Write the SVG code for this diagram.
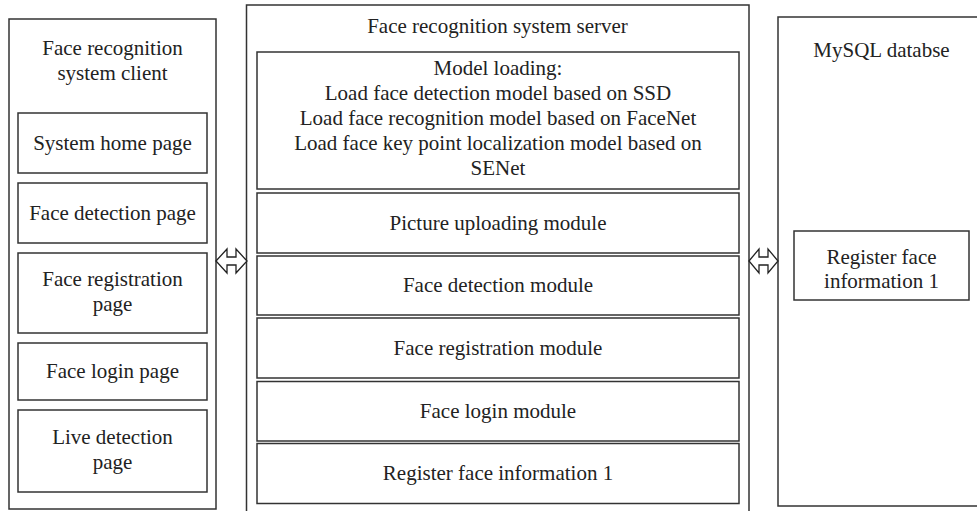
<svg xmlns="http://www.w3.org/2000/svg" width="977" height="511" viewBox="0 0 977 511">
<style>
rect{fill:#fff;stroke:#333;stroke-width:1.5}
text{font-family:"Liberation Serif","Times New Roman",serif;font-size:21px;fill:#222;text-anchor:middle}
.arr{fill:#fff;stroke:#222;stroke-width:1.3;stroke-linejoin:miter}
</style>
<rect x="0" y="0" width="977" height="511" style="stroke:none"/>
<g id="client">
<rect x="9" y="19" width="207" height="490"/>
<text x="112.5" y="55">Face recognition</text>
<text x="112.5" y="80">system client</text>
</g>
<g id="home"><rect x="18" y="113" width="189" height="60"/><text x="112.5" y="150">System home page</text></g>
<g id="detpage"><rect x="18" y="183" width="189" height="60"/><text x="112.5" y="220">Face detection page</text></g>
<g id="regpage"><rect x="18" y="253" width="189" height="80"/><text x="112.5" y="286">Face registration</text><text x="112.5" y="311">page</text></g>
<g id="loginpage"><rect x="18" y="343" width="189" height="57"/><text x="112.5" y="378">Face login page</text></g>
<g id="livepage"><rect x="18" y="410" width="189" height="82"/><text x="112.5" y="444">Live detection</text><text x="112.5" y="469">page</text></g>
<g id="server">
<rect x="246.5" y="5" width="502.5" height="515"/>
<text x="497.5" y="33">Face recognition system server</text>
</g>
<g id="model"><rect x="257" y="52" width="482" height="137"/>
<text x="498" y="75">Model loading:</text>
<text x="498" y="100">Load face detection model based on SSD</text>
<text x="498" y="125">Load face recognition model based on FaceNet</text>
<text x="498" y="150">Load face key point localization model based on</text>
<text x="498" y="175">SENet</text>
</g>
<g id="upload"><rect x="257" y="193" width="482" height="60"/><text x="498" y="230">Picture uploading module</text></g>
<g id="detmod"><rect x="257" y="256" width="482" height="59"/><text x="498" y="292">Face detection module</text></g>
<g id="regmod"><rect x="257" y="318" width="482" height="60"/><text x="498" y="355">Face registration module</text></g>
<g id="loginmod"><rect x="257" y="381.5" width="482" height="59.5"/><text x="498" y="418">Face login module</text></g>
<g id="regface"><rect x="257" y="443.5" width="482" height="60"/><text x="498" y="480">Register face information 1</text></g>
<g id="db">
<rect x="778" y="17" width="220" height="489"/>
<text x="881.5" y="57">MySQL databse</text>
</g>
<g id="dbreg"><rect x="794" y="231" width="175" height="69"/><text x="881.5" y="264">Register face</text><text x="881.5" y="288">information 1</text></g>
<g id="connectors">
<path class="arr" d="M216,261 L227,249 L227,257 L236,257 L236,249 L247,261 L236,273 L236,265 L227,265 L227,273 Z"/>
<path class="arr" d="M749,261 L759,249 L759,257 L768,257 L768,249 L778,261 L768,273 L768,265 L759,265 L759,273 Z"/>
</g>
</svg>
